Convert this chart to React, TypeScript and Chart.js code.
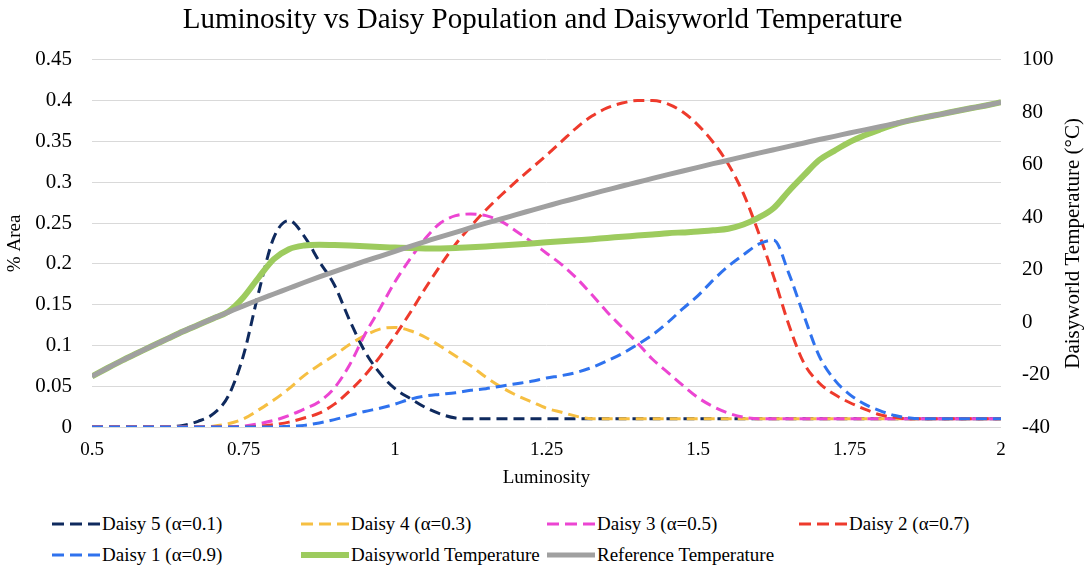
import React, { useEffect, useRef } from 'react';
import { Chart, registerables } from 'chart.js';

Chart.register(...registerables);

const luminosity = [
  0.5, 0.525, 0.55, 0.575, 0.6, 0.625, 0.65, 0.675, 0.7, 0.725,
  0.75, 0.775, 0.8, 0.825, 0.85, 0.875, 0.9, 0.925, 0.95, 0.975,
  1.0, 1.025, 1.05, 1.075, 1.1, 1.125, 1.15, 1.175, 1.2, 1.225,
  1.25, 1.275, 1.3, 1.325, 1.35, 1.375, 1.4, 1.425, 1.45, 1.475,
  1.5, 1.525, 1.55, 1.575, 1.6, 1.625, 1.65, 1.675, 1.7, 1.725,
  1.75, 1.775, 1.8, 1.825, 1.85, 1.875, 1.9, 1.925, 1.95, 1.975, 2.0,
];

const daisy5 = [
  0, 0, 0, 0, 0, 0, 0.002, 0.007, 0.016, 0.038,
  0.088, 0.165, 0.232, 0.253, 0.234, 0.203, 0.174, 0.131, 0.093, 0.066,
  0.047, 0.035, 0.024, 0.016, 0.011, 0.01, 0.01, 0.01, 0.01, 0.01,
  0.01, 0.01, 0.01, 0.01, 0.01, 0.01, 0.01, 0.01, 0.01, 0.01,
  0.01, 0.01, 0.01, 0.01, 0.01, 0.01, 0.01, 0.01, 0.01, 0.01,
  0.01, 0.01, 0.01, 0.01, 0.01, 0.01, 0.01, 0.01, 0.01, 0.01, 0.01,
];

const daisy4 = [
  0, 0, 0, 0, 0, 0, 0, 0, 0.001, 0.004,
  0.01, 0.021, 0.033, 0.047, 0.063, 0.076, 0.088, 0.101, 0.112, 0.12,
  0.122, 0.118, 0.11, 0.099, 0.087, 0.075, 0.061, 0.049, 0.039, 0.031,
  0.023, 0.018, 0.013, 0.01, 0.01, 0.01, 0.01, 0.01, 0.01, 0.01,
  0.01, 0.01, 0.01, 0.01, 0.01, 0.01, 0.01, 0.01, 0.01, 0.01,
  0.01, 0.01, 0.01, 0.01, 0.01, 0.01, 0.01, 0.01, 0.01, 0.01, 0.01,
];

const daisy3 = [
  0, 0, 0, 0, 0, 0, 0, 0, 0, 0,
  0.001, 0.004, 0.008, 0.014, 0.022, 0.031, 0.048, 0.076, 0.113, 0.145,
  0.178, 0.206, 0.231, 0.25, 0.259, 0.261, 0.259, 0.252, 0.24, 0.227,
  0.213, 0.199, 0.182, 0.162, 0.141, 0.122, 0.103, 0.083, 0.067, 0.051,
  0.036, 0.025, 0.017, 0.012, 0.01, 0.01, 0.01, 0.01, 0.01, 0.01,
  0.01, 0.01, 0.01, 0.01, 0.01, 0.01, 0.01, 0.01, 0.01, 0.01, 0.01,
];

const daisy2 = [
  0, 0, 0, 0, 0, 0, 0, 0, 0, 0,
  0, 0.001, 0.003, 0.006, 0.011, 0.017, 0.028, 0.044, 0.063, 0.086,
  0.112, 0.14, 0.17, 0.198, 0.224, 0.246, 0.266, 0.284, 0.301, 0.317,
  0.333, 0.35, 0.367, 0.381, 0.391, 0.397, 0.4, 0.4, 0.396, 0.386,
  0.37, 0.349, 0.322, 0.286, 0.238, 0.184, 0.125, 0.078, 0.054, 0.04,
  0.03, 0.022, 0.015, 0.012, 0.01, 0.01, 0.01, 0.01, 0.01, 0.01, 0.01,
];

const daisy1 = [
  0, 0, 0, 0, 0, 0, 0, 0, 0, 0,
  0, 0, 0, 0.001, 0.002, 0.005, 0.009, 0.014, 0.019, 0.023,
  0.028, 0.034, 0.038, 0.04, 0.042, 0.045, 0.047, 0.05, 0.053, 0.056,
  0.06, 0.063, 0.067, 0.073, 0.081, 0.09, 0.101, 0.113, 0.128, 0.145,
  0.161, 0.18, 0.197, 0.211, 0.224, 0.229, 0.188, 0.136, 0.087, 0.058,
  0.04, 0.028, 0.02, 0.014, 0.011, 0.01, 0.01, 0.01, 0.01, 0.01, 0.01,
];

const daisyworldTemp = [
  -20.7, -17.6, -14.6, -11.8, -9.0, -6.3, -3.6, -1.1, 1.4, 4.0,
  9.5, 17.0, 24.0, 27.8, 29.2, 29.5, 29.4, 29.2, 28.9, 28.6,
  28.4, 28.2, 28.1, 28.1, 28.2, 28.5, 28.8, 29.2, 29.6, 30.0,
  30.4, 30.8, 31.2, 31.6, 32.1, 32.5, 33.0, 33.4, 33.9, 34.2,
  34.5, 35.0, 35.6, 37.2, 39.8, 43.5, 50.0, 56.0, 61.8, 65.3,
  68.6, 71.2, 73.4, 75.4, 76.9, 78.1, 79.2, 80.4, 81.5, 82.6, 83.8,
];

const referenceTemp = [
  -20.7, -17.6, -14.6, -11.8, -9.0, -6.3, -3.6, -1.1, 1.4, 3.8,
  6.2, 8.5, 10.7, 12.9, 15.1, 17.2, 19.2, 21.2, 23.2, 25.1,
  27.0, 28.9, 30.7, 32.5, 34.2, 36.0, 37.7, 39.3, 41.0, 42.6,
  44.2, 45.8, 47.3, 48.9, 50.4, 51.9, 53.3, 54.8, 56.2, 57.6,
  59.0, 60.4, 61.7, 63.1, 64.4, 65.7, 67.0, 68.3, 69.6, 70.8,
  72.1, 73.3, 74.5, 75.7, 76.9, 78.1, 79.2, 80.4, 81.5, 82.6, 83.8,
];

const xTickLabels = ['0.5', '0.75', '1', '1.25', '1.5', '1.75', '2'];
const areaTickLabels = ['0', '0.05', '0.1', '0.15', '0.2', '0.25', '0.3', '0.35', '0.4', '0.45'];
const tempTickLabels = ['-40', '-20', '0', '20', '40', '60', '80', '100'];

const SERIF = '"Liberation Serif", "Times New Roman", Times, serif';

const seriesStyle = [
  { label: 'Daisy 5 (α=0.1)', data: daisy5, color: '#0f2a5e', dashed: true, axis: 'y', order: 6 },
  { label: 'Daisy 4 (α=0.3)', data: daisy4, color: '#f6bf42', dashed: true, axis: 'y', order: 5 },
  { label: 'Daisy 3 (α=0.5)', data: daisy3, color: '#ec45d2', dashed: true, axis: 'y', order: 4 },
  { label: 'Daisy 2 (α=0.7)', data: daisy2, color: '#ee3a2c', dashed: true, axis: 'y', order: 3 },
  { label: 'Daisy 1 (α=0.9)', data: daisy1, color: '#2f72ee', dashed: true, axis: 'y', order: 2 },
  { label: 'Daisyworld Temperature', data: daisyworldTemp, color: '#9dcb5e', dashed: false, axis: 'y1', order: 1, width: 6 },
  { label: 'Reference Temperature', data: referenceTemp, color: '#a0a0a0', dashed: false, axis: 'y1', order: 0, width: 5 },
];

const legendCols = [52, 301, 547, 799];
const legendRows = [524, 555];

const rightTitlePlugin = {
  id: 'rightTitle',
  afterDraw(chart: any) {
    const { ctx, chartArea } = chart;
    ctx.save();
    ctx.translate(chart.width - 12, (chartArea.top + chartArea.bottom) / 2);
    ctx.rotate(-Math.PI / 2);
    ctx.font = `21px ${SERIF}`;
    ctx.fillStyle = '#000';
    ctx.textAlign = 'center';
    ctx.textBaseline = 'middle';
    ctx.fillText('Daisyworld Temperature (°C)', 0, 0);
    ctx.restore();
  },
};

export default function App() {
  const canvasRef = useRef<HTMLCanvasElement | null>(null);

  useEffect(() => {
    if (!canvasRef.current) return;
    const datasets = seriesStyle.map((s) => ({
      label: s.label,
      data: luminosity.map((x, i) => ({ x, y: s.data[i] })),
      yAxisID: s.axis,
      borderColor: s.color,
      backgroundColor: s.color,
      borderWidth: s.dashed ? 3 : s.width,
      borderDash: s.dashed ? [11, 6] : [],
      pointRadius: 0,
      fill: false,
      cubicInterpolationMode: 'monotone' as const,
      order: s.order,
    }));

    const chart = new Chart(canvasRef.current, {
      type: 'line',
      data: { datasets },
      plugins: [rightTitlePlugin],
      options: {
        animation: false,
        responsive: false,
        maintainAspectRatio: false,
        layout: { padding: 0 },
        plugins: {
          legend: { display: false },
          tooltip: { enabled: false },
          title: {
            display: true,
            text: 'Luminosity vs Daisy Population and Daisyworld Temperature',
            color: '#000',
            font: { family: SERIF, size: 29, weight: 'normal' },
            padding: { top: 3, bottom: 22 },
          },
        },
        scales: {
          x: {
            type: 'linear',
            position: 'bottom',
            min: 0.5,
            max: 2,
            grid: { display: false, drawTicks: false },
            border: { display: false },
            ticks: {
              stepSize: 0.25,
              color: '#000',
              font: { family: SERIF, size: 19 },
              padding: 12,
              maxRotation: 0,
              autoSkip: false,
              callback: (v: any) => xTickLabels[Math.round((Number(v) - 0.5) / 0.25)] ?? '',
            },
            title: {
              display: true,
              text: 'Luminosity',
              color: '#000',
              font: { family: SERIF, size: 19 },
              padding: { top: 0, bottom: 11 },
            },
            afterFit: (scale: any) => {
              scale.height = 73;
            },
          },
          y: {
            type: 'linear',
            position: 'left',
            min: 0,
            max: 0.45,
            grid: { color: '#d9d9d9', lineWidth: 1, drawTicks: false },
            border: { display: false },
            ticks: {
              stepSize: 0.05,
              color: '#000',
              font: { family: SERIF, size: 21 },
              padding: 20,
              callback: (v: any) => areaTickLabels[Math.round(Number(v) / 0.05)] ?? '',
            },
            title: {
              display: true,
              text: '% Area',
              color: '#000',
              font: { family: SERIF, size: 19 },
              padding: { top: 4, bottom: 0 },
            },
            afterFit: (scale: any) => {
              scale.width = 92;
            },
          },
          y1: {
            type: 'linear',
            position: 'right',
            min: -40,
            max: 100,
            grid: { display: false, drawTicks: false },
            border: { display: false },
            ticks: {
              stepSize: 20,
              color: '#000',
              font: { family: SERIF, size: 21 },
              padding: 21,
              callback: (v: any) => tempTickLabels[Math.round((Number(v) + 40) / 20)] ?? '',
            },
            afterFit: (scale: any) => {
              scale.width = 84;
            },
          },
        },
      },
    });
    return () => chart.destroy();
  }, []);

  return (
    <div
      style={{
        position: 'fixed',
        left: 0,
        top: 0,
        width: 1085,
        height: 566,
        background: '#fff',
        overflow: 'hidden',
        fontFamily: SERIF,
      }}
    >
      <canvas ref={canvasRef} width={1085} height={500} style={{ position: 'absolute', left: 0, top: 0, width: 1085, height: 500 }} />
      {seriesStyle.map((s, i) => {
        const col = i % 4;
        const row = Math.floor(i / 4);
        return (
          <div
            key={s.label}
            style={{
              position: 'absolute',
              left: legendCols[col],
              top: legendRows[row] - 12,
              height: 24,
              display: 'flex',
              alignItems: 'center',
              whiteSpace: 'nowrap',
            }}
          >
            <svg width={48} height={10} style={{ display: 'block' }}>
              <line
                x1={0}
                y1={5}
                x2={48}
                y2={5}
                stroke={s.color}
                strokeWidth={s.dashed ? 3 : s.width}
                strokeDasharray={s.dashed ? '12 6' : undefined}
              />
            </svg>
            <span style={{ marginLeft: 2, fontSize: 19, lineHeight: '24px', color: '#000', fontFamily: SERIF }}>
              {s.label}
            </span>
          </div>
        );
      })}
    </div>
  );
}
